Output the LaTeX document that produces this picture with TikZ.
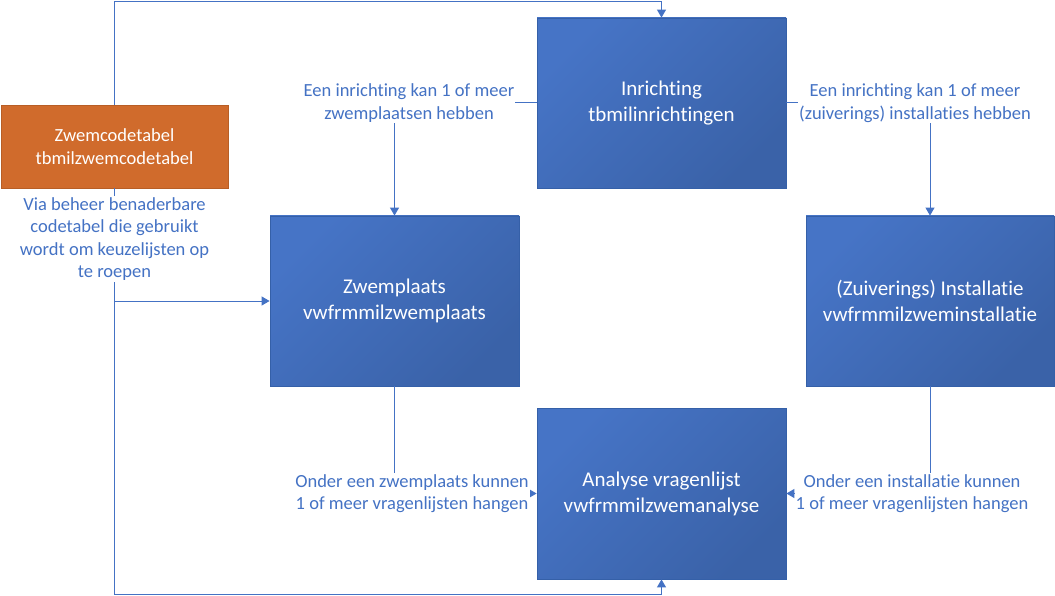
\documentclass[tikz,border=0pt]{standalone}
\usepackage{fontspec}
\setmainfont{Carlito}[Ligatures={NoCommon}]
\usetikzlibrary{arrows.meta}
\definecolor{boxlight}{HTML}{4674C6}
\definecolor{boxdark}{HTML}{3A62A8}
\definecolor{boxedge}{HTML}{3560A8}
\definecolor{codefill}{HTML}{D06B2C}
\definecolor{codeedge}{HTML}{B85E25}
\definecolor{linkblue}{HTML}{4472C4}

\begin{document}
\begin{tikzpicture}[x=1pt, y=-1pt, >={Triangle[length=8pt,width=9pt]},
	table node/.style={rectangle, draw=boxedge, line width=0.8pt, top color=boxlight, bottom color=boxdark, shading angle=45, minimum width=249pt, minimum height=170pt, inner sep=0pt, text=white, align=center, font=\fontsize{21}{26}\selectfont},
	code node/.style={rectangle, draw=codeedge, line width=0.8pt, fill=codefill, minimum width=227pt, minimum height=83pt, inner sep=0pt, text=white, align=center, font=\fontsize{18.5}{22.6}\selectfont},
	text node/.style={fill=white, inner sep=1pt, text=linkblue, align=center, font=\fontsize{18.5}{22.6}\selectfont},
	arrow line/.style={draw=linkblue, line width=1pt, ->}]
	\useasboundingbox (0,0) rectangle (1055,596);

	\node[code node] (C) at (114.5,146.5) {Zwemcodetabel\\tbmilzwemcodetabel};
	\node[table node] (I) at (661.5,103) {Inrichting\\tbmilinrichtingen};
	\node[table node] (Z) at (394.5,301) {Zwemplaats\\vwfrmmilzwemplaats};
	\node[table node, minimum width=248pt] (S) at (930,301) {(Zuiverings) Installatie\\vwfrmmilzweminstallatie};
	\node[table node, minimum height=171pt] (V) at (661.5,493.5) {Analyse vragenlijst\\vwfrmmilzwemanalyse};

	\coordinate (top) at (114.5,1.5);
	\coordinate (bottom) at (114.5,594.5);
	\coordinate (split) at (C.south |- Z.west);

	\draw[arrow line] (C.north) -- (top) -| (I.north);
	\draw[arrow line] (C.south) -- (bottom) -| (V.south);
	\draw[arrow line] (split) -- (Z.west);
	\node[text node] (T1) at (114.5,239) {Via beheer benaderbare\\codetabel die gebruikt\\wordt om keuzelijsten op\\te roepen};

	\draw[arrow line] (I.west) -| node[text node, xshift=14.5pt] (T2) {Een inrichting kan 1 of meer\\zwemplaatsen hebben} (Z.north);
	\draw[arrow line] (I.east) -| node[text node, xshift=-15pt] (T3) {Een inrichting kan 1 of meer\\(zuiverings) installaties hebben} (S.north);
	\draw[arrow line] (Z.south) |- node[text node, xshift=17.5pt] (T4) {Onder een zwemplaats kunnen\\1 of meer vragenlijsten hangen} (V.west);
	\draw[arrow line] (S.south) |- node[text node, xshift=-18pt] (T5) {Onder een installatie kunnen\\1 of meer vragenlijsten hangen} (V.east);
\end{tikzpicture}
\end{document}
